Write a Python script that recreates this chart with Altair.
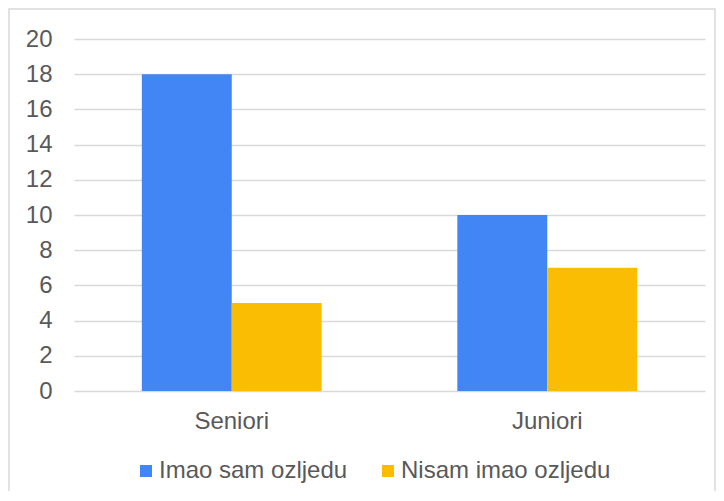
import altair as alt
import pandas as pd

categories = ["Seniori", "Juniori"]
series = ["Imao sam ozljedu", "Nisam imao ozljedu"]
injured = [18, 10]
not_injured = [5, 7]
colors = ["#4285F4", "#FBBC04"]
y_ticks = [0, 2, 4, 6, 8, 10, 12, 14, 16, 18, 20]

rows = []
for i, c in enumerate(categories):
    rows.append({"group": c, "series": series[0], "value": injured[i]})
    rows.append({"group": c, "series": series[1], "value": not_injured[i]})
df = pd.DataFrame(rows)

FONT = "Liberation Sans"
TXT = "#595959"
FS = 24

bars = alt.Chart(df).mark_bar().encode(
    x=alt.X("group:N", sort=categories,
            scale=alt.Scale(paddingInner=0.43, paddingOuter=0.215),
            axis=alt.Axis(title=None, labelAngle=0, domain=False, ticks=False, tickSize=0,
                          grid=False, labelFontSize=FS, labelColor=TXT, labelFont=FONT,
                          labelPadding=18)),
    xOffset=alt.XOffset("series:N", sort=series,
                        scale=alt.Scale(paddingInner=0, paddingOuter=0)),
    y=alt.Y("value:Q", scale=alt.Scale(domain=[0, 20]),
            axis=alt.Axis(title=None, values=y_ticks, domain=False, ticks=False, tickSize=0,
                          gridColor="#d9d9d9", gridWidth=1.5, labelFontSize=FS,
                          labelColor=TXT, labelFont=FONT, labelPadding=22)),
    color=alt.Color("series:N", sort=series,
                    scale=alt.Scale(domain=series, range=colors),
                    legend=alt.Legend(orient="none", legendX=60, legendY=420,
                                      direction="horizontal", title=None,
                                      symbolType="square", symbolSize=144,
                                      symbolStrokeWidth=0, labelFontSize=FS,
                                      labelColor=TXT, labelFont=FONT, labelLimit=400,
                                      columnPadding=28, labelOffset=1)),
)

border = alt.Chart(pd.DataFrame({"a": [0]})).mark_rect(
    fillOpacity=0, stroke="#d9d9d9", strokeWidth=1.5, clip=False
).encode(x=alt.value(-65), x2=alt.value(641), y=alt.value(-30), y2=alt.value(470))

chart = alt.layer(border, bars).properties(
    width=631, height=352,
    autosize=alt.AutoSizeParams(type="none"),
    padding={"left": 66, "top": 31, "right": 11, "bottom": 100},
).configure_view(strokeWidth=0)

chart.save("out.html", embed_options={"renderer": "svg", "actions": False})
